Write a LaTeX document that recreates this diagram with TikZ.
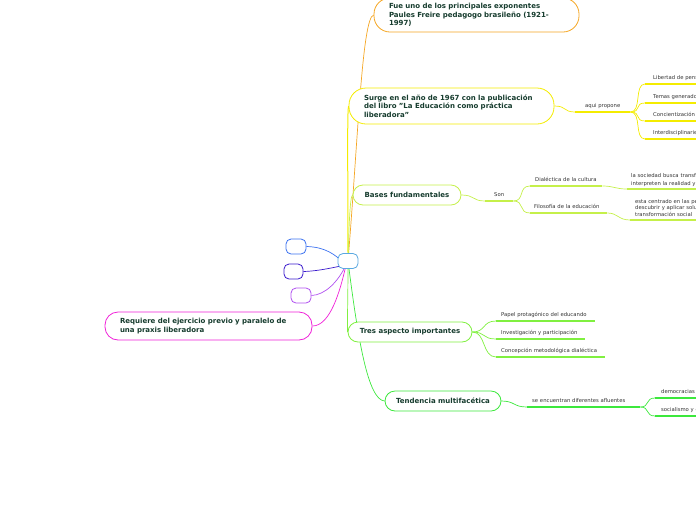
\documentclass[tikz,border=0pt]{standalone}
\usepackage{fontspec}
\setmainfont{DejaVu Sans}
\pgfdeclarelayer{bg}
\pgfsetlayers{bg,main}
\definecolor{corange}{HTML}{F5A623}
\definecolor{cyellow}{HTML}{F4EC00}
\definecolor{cyg}{HTML}{C5F04A}
\definecolor{cgreenA}{HTML}{80F040}
\definecolor{cgreenB}{HTML}{3CE83C}
\definecolor{cmag}{HTML}{F020D8}
\definecolor{cpur}{HTML}{B050F0}
\definecolor{cdpur}{HTML}{3A1ACC}
\definecolor{cblue}{HTML}{3A70F0}
\definecolor{ccen}{HTML}{5AA8E0}
\definecolor{ctxt}{HTML}{163C2E}
\definecolor{cgray}{HTML}{333333}
\begin{document}
\begin{tikzpicture}[x=1pt,y=-1pt,
  mbox/.style={draw, line width=0.8pt, fill=white, font=\bfseries\fontsize{7}{8.4}\selectfont, text=ctxt},
  pill/.style={mbox, rounded corners=10pt, minimum height=20pt, inner sep=0pt, align=center},
  big/.style={mbox, inner xsep=15pt, inner ysep=0pt, align=left},
  small/.style={mbox, minimum width=20pt, minimum height=15pt, rounded corners=5pt},
  lbl/.style={inner xsep=5pt, inner ysep=2.2pt, anchor=south west, align=left, font=\fontsize{5.3}{7}\selectfont, text=cgray, execute at end node=\strut},
  conn/.style={line width=0.7pt},
  ul/.style={line width=1.6pt},
]
\useasboundingbox (0,0) rectangle (696,520);
\clip (0,0) rectangle (696,520);

% central and small nodes
\node[small, draw=ccen] (c) at (348,261) {};
\coordinate (cj) at (346,265);
\node[small, draw=cblue] (b1) at (296,246.5) {};
\node[small, draw=cdpur, minimum width=19pt] (b2) at (293.5,271.5) {};
\node[small, draw=cpur] (b3) at (301,295.5) {};

% main nodes
\node[big, draw=cmag, text width=177pt, minimum height=28pt, rounded corners=13pt, inner xsep=15pt] (m) at (208.5,326) {Requiere del ejercicio previo y paralelo de\\una praxis liberadora};
\node[big, draw=corange, text width=175pt, minimum height=34pt, rounded corners=16pt] (o) at (476.5,15) {Fue uno de los principales exponentes\\Paules Freire pedagogo brasileño (1921-\\1997)};
\node[big, draw=cyellow, text width=175pt, minimum height=36pt, rounded corners=17pt] (y) at (451.5,106) {Surge en el año de 1967 con la publicación\\del libro "La Educación como práctica\\liberadora"};
\node[pill, draw=cyg, minimum width=108pt] (bf) at (407,195) {Bases fundamentales};
\node[pill, draw=cgreenA, minimum width=124pt] (t) at (410,332) {Tres aspecto importantes};
\node[pill, draw=cgreenB, minimum width=116pt] (td) at (443,401) {Tendencia multifacética};

% labels: yellow branch
\node[lbl, text width=45pt, align=center] (ap) at (575,112) {aqui propone};
\node[lbl, inner xsep=8pt, text width=90pt] (l1) at (645,84) {Libertad de pensamiento};
\node[lbl, inner xsep=8pt, text width=90pt] (l2) at (645,103) {Temas generadores};
\node[lbl, inner xsep=8pt, text width=90pt] (l3) at (645,121) {Concientización};
\node[lbl, inner xsep=8pt, text width=90pt] (l4) at (645,139) {Interdisciplinariedad};

% bases branch
\node[lbl, text width=18pt, align=center] (son) at (485,201) {Son};
\node[lbl, text width=62pt] (dc) at (530,186) {Dialéctica de la cultura};
\node[lbl, inner xsep=4pt, text width=69pt] (fe) at (530,213) {Filosofía de la educación};
\node[lbl, inner xsep=4pt, inner ysep=1.2pt, text width=120pt, font=\fontsize{5.3}{8}\selectfont] (sc) at (627,189) {la sociedad busca transformarse y que\\interpreten la realidad y la cambien};
\node[lbl, inner ysep=1.6pt, text width=120pt, font=\fontsize{5.3}{6.5}\selectfont] (ec) at (630,220) {esta centrado en las personas para\\descubrir y aplicar soluciones de\\transformación social};

% tres branch
\node[lbl, text width=89pt] (p1) at (496,321) {Papel protagónico del educando};
\node[lbl, text width=79pt] (p2) at (496,339) {Investigación y participación};
\node[lbl, text width=99pt] (p3) at (496,357) {Concepción metodológica dialéctica};

% tendencia branch
\node[lbl, text width=103pt] (se) at (527,407) {se encuentran diferentes afluentes};
\node[lbl, inner xsep=6pt, text width=80pt] (d1) at (655,398) {democracias populares};
\node[lbl, inner xsep=6pt, text width=80pt] (d2) at (655,416) {socialismo y comunismo};

% underlines
\draw[ul, cyellow] (ap.south west) -- (ap.south east);
\foreach \n in {l1,l2,l3,l4} \draw[ul, cyellow] (\n.south west) -- (\n.south east);
\foreach \n in {son,dc,fe,sc,ec} \draw[ul, cyg] (\n.south west) -- (\n.south east);
\foreach \n in {p1,p2,p3} \draw[ul, cgreenA] (\n.south west) -- (\n.south east);
\foreach \n in {se,d1,d2} \draw[ul, cgreenB] (\n.south west) -- (\n.south east);

\begin{pgfonlayer}{bg}
\clip (0,0) rectangle (696,520);
% from center
\draw[conn, cblue] (b1.east) .. controls (325,247) and (335,254) .. (cj);
\draw[conn, cdpur] (b2.east) .. controls (320,271) and (335,267) .. (cj);
\draw[conn, cpur] (b3.east) .. controls (325,295) and (338,282) .. (cj);
\draw[conn, cmag] (m.east) .. controls (330,326) and (340,292) .. (cj);
\draw[conn, corange] (c.center) .. controls (358,140) and (362,18) .. (o.west);
\draw[conn, cyellow, line width=1pt] (c.center) .. controls (348,180) and (347,110) .. (y.west);
\draw[conn, cyg] (c.center) .. controls (349,225) and (350,196) .. (bf.west);
\draw[conn, cgreenA] (c.center) .. controls (348,300) and (347,330) .. (t.west);
\draw[conn, cgreenB] (c.center) .. controls (358,340) and (368,400) .. (td.west);
% yellow branch
\draw[conn, cyellow] (y.east) .. controls (567,106) and (563,112) .. (ap.south west);
\foreach \n in {l1,l2,l3,l4} \draw[conn, cyellow] (ap.south east) .. controls (642,112) and (634,0|-\n.south west) .. (\n.south west);
% bases branch
\draw[conn, cyg] (bf.east) .. controls (475,195) and (472,201) .. (son.south west);
\foreach \n in {dc,fe} \draw[conn, cyg] (son.south east) .. controls (525,201) and (518,0|-\n.south west) .. (\n.south west);
\draw[conn, cyg] (dc.south east) .. controls (614,186) and (615,189) .. (sc.south west);
\draw[conn, cyg] (fe.south east) .. controls (618,213) and (618,220) .. (ec.south west);
% tres branch
\foreach \n in {p1,p2,p3} \draw[conn, cgreenA] (t.east) .. controls (486,332) and (482,0|-\n.south west) .. (\n.south west);
% tendencia branch
\draw[conn, cgreenB] (td.east) .. controls (515,401) and (513,407) .. (se.south west);
\foreach \n in {d1,d2} \draw[conn, cgreenB] (se.south east) .. controls (650,407) and (645,0|-\n.south west) .. (\n.south west);
\end{pgfonlayer}
\end{tikzpicture}
\end{document}
